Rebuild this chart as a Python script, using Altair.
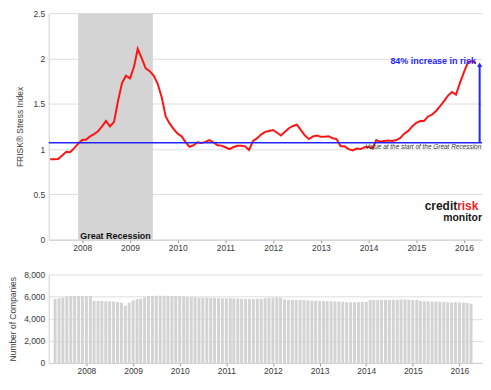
import altair as alt
import pandas as pd

# ---------------- data ----------------
months = pd.date_range("2007-05-01", "2016-04-01", freq="MS").strftime("%Y-%m-%d").tolist()

stress = [
    0.887, 0.887, 0.89, 0.93, 0.97, 0.965, 1.01, 1.06,
    1.10, 1.106, 1.14, 1.165, 1.196, 1.25, 1.31, 1.25, 1.30, 1.53,
    1.73, 1.81, 1.78, 1.91, 2.106, 2.00, 1.89, 1.86, 1.81, 1.72,
    1.57, 1.36, 1.28, 1.22, 1.17, 1.14, 1.08, 1.025, 1.04, 1.075,
    1.066, 1.08, 1.10, 1.075, 1.043, 1.038, 1.02, 1.0, 1.02, 1.036,
    1.036, 1.03, 0.99, 1.09, 1.12, 1.16, 1.19, 1.20, 1.21, 1.18,
    1.15, 1.19, 1.23, 1.255, 1.27, 1.21, 1.15, 1.11, 1.14, 1.15,
    1.135, 1.135, 1.142, 1.12, 1.11, 1.03, 1.03, 1.0, 0.985, 1.005,
    1.0, 1.02, 1.025, 1.007, 1.10, 1.08, 1.09, 1.095, 1.09, 1.10,
    1.124, 1.17, 1.20, 1.25, 1.29, 1.31, 1.31, 1.36, 1.38, 1.42,
    1.47, 1.53, 1.59, 1.63, 1.60, 1.73, 1.85, 1.96, 1.97, 1.95,
]

companies = [
    5800, 5850, 5900, 6000, 6050, 6050, 6050, 6050,
    6050, 6050, 5620, 5600, 5600, 5580, 5570, 5550, 5500, 5450, 5180, 5450,
    5650, 5780, 5800, 5950, 6050, 6050, 6080, 6080, 6080, 6050, 6050, 6050, 6050, 6000, 5980,
    5950, 5950, 5900, 5900, 5900, 5880, 5880, 5850, 5850, 5850, 5850, 5830, 5830, 5800, 5800, 5780, 5780,
    5800, 5800, 5850, 5900,
    5900, 5920, 5900,
    5750, 5720, 5700, 5700, 5680, 5680,
    5650, 5620, 5620, 5600, 5600, 5580, 5580, 5550, 5550, 5530, 5500,
    5480, 5480, 5500, 5520, 5530,
    5700, 5680, 5680, 5700, 5700, 5700, 5720, 5720,
    5750, 5750, 5720, 5700, 5680,
    5600, 5580, 5560, 5550, 5550, 5530, 5530,
    5480, 5470, 5500, 5470, 5450, 5420, 5350,
]

years = [2008, 2009, 2010, 2011, 2012, 2013, 2014, 2015, 2016]
stress_ticks = [0, 0.5, 1, 1.5, 2, 2.5]
company_ticks = [0, 2000, 4000, 6000, 8000]

recession_start = "2007-12-01"
recession_end = "2009-06-25"
recession_mid = "2008-09-12"
start_value = 1.07
latest_value = 1.93

df = pd.DataFrame({"date": months, "stress": stress, "companies": companies})

# ---------------- styling ----------------
FONT = "Liberation Sans, Arial, sans-serif"
BLUE = "#2424ff"
GRID = "#dedede"
DOMAIN = "#cfcfcf"
LABEL = "#3a3a3a"

xscale = alt.Scale(
    type="utc",
    domain=[
        alt.DateTime(year=2007, month=4, date=20, utc=True),
        alt.DateTime(year=2016, month=5, date=18, utc=True),
    ],
)
xaxis = alt.Axis(
    values=[alt.DateTime(year=y, month=1, date=1, utc=True) for y in years],
    format="%Y",
    grid=False,
    domainColor=DOMAIN,
    tickColor="#999999",
    tickSize=3,
    labelPadding=1,
    labelFont=FONT,
    labelFontSize=8.5,
    labelColor=LABEL,
    title=None,
)


def X(field):
    return alt.X(field, type="temporal", scale=xscale, axis=xaxis, title=None)


yscale_top = alt.Scale(domain=[0, 2.5], nice=False, zero=True)
yaxis_top = alt.Axis(
    values=stress_ticks,
    format="~g",
    grid=True,
    gridColor=GRID,
    domainColor=DOMAIN,
    ticks=False,
    labelPadding=4,
    labelFont=FONT,
    labelFontSize=8.5,
    labelColor=LABEL,
    title="FRISK\u00ae Stress Index",
    titleFont=FONT,
    titleFontSize=8.5,
    titleFontWeight="normal",
    titleColor=LABEL,
    titlePadding=9,
)


def YT(field):
    return alt.Y(field, type="quantitative", scale=yscale_top, axis=yaxis_top, title="FRISK\u00ae Stress Index")


band_df = pd.DataFrame({
    "start": [recession_start], "end": [recession_end], "mid": [recession_mid],
    "lo": [0.0], "hi": [2.5], "lab_y": [0.045], "label": ["Great Recession"],
})

band = alt.Chart(band_df).mark_rect(color="#d4d4d4").encode(
    x=X("start"), x2="end", y=YT("lo"), y2="hi"
)
band_text = alt.Chart(band_df).mark_text(
    font=FONT, fontSize=9, fontWeight="bold", color="#111111", align="center", baseline="middle"
).encode(x=X("mid"), y=YT("lab_y"), text="label")

line = alt.Chart(df).mark_line(color="#ff1414", strokeWidth=2).encode(
    x=X("date"), y=YT("stress")
)

hrule = alt.Chart(pd.DataFrame({"v": [start_value]})).mark_rule(
    color=BLUE, strokeWidth=1.5
).encode(y=YT("v"))

arrow_df = pd.DataFrame({"date": ["2016-04-30"], "y0": [start_value], "y1": [latest_value]})
vrule = alt.Chart(arrow_df).mark_rule(color=BLUE, strokeWidth=2).encode(
    x=X("date"), y=YT("y0"), y2="y1"
)
head = alt.Chart(arrow_df).mark_point(
    shape="triangle-up", filled=True, size=28, color=BLUE, opacity=1
).encode(x=X("date"), y=YT("y1"))

inc_df = pd.DataFrame({"date": ["2016-04-01"], "y": [1.975], "t": ["84% increase in risk"]})
inc_text = alt.Chart(inc_df).mark_text(
    font=FONT, fontSize=9, fontWeight="bold", color=BLUE, align="right", baseline="middle"
).encode(x=X("date"), y=YT("y"), text="t")

val_df = pd.DataFrame({"date": ["2016-05-12"], "y": [1.025], "t": ["Value at the start of the Great Recession"]})
val_text = alt.Chart(val_df).mark_text(
    font=FONT, fontSize=6.5, fontStyle="italic", color="#333333", align="right", baseline="middle"
).encode(x=X("date"), y=YT("y"), text="t")

logo_df = pd.DataFrame({
    "date": ["2015-11-10", "2015-11-10", "2016-05-18"],
    "y": [0.33, 0.33, 0.21],
    "t": ["credit", "risk", "monitor"],
    "c": ["#1a1a1a", "#e41e26", "#1a1a1a"],
    "a": ["right", "left", "right"],
    "s": [12, 12, 10.5],
})
logo_parts = []
for i in range(3):
    row = logo_df.iloc[[i]]
    logo_parts.append(
        alt.Chart(row).mark_text(
            font=FONT, fontSize=float(row["s"].iloc[0]), fontWeight="bold", color=row["c"].iloc[0],
            align=row["a"].iloc[0], baseline="alphabetic"
        ).encode(x=X("date"), y=YT("y"), text="t")
    )

top = alt.layer(
    band, line, hrule, vrule, head, band_text, inc_text, val_text, *logo_parts
).properties(width=436, height=228)

# ---------------- bottom ----------------
yaxis_bot = alt.Axis(
    values=company_ticks,
    format=",d",
    grid=True,
    gridColor=GRID,
    domainColor=DOMAIN,
    ticks=False,
    labelPadding=4,
    labelFont=FONT,
    labelFontSize=8.5,
    labelColor=LABEL,
    title="Number of Companies",
    titleFont=FONT,
    titleFontSize=8.5,
    titleFontWeight="normal",
    titleColor=LABEL,
    titlePadding=6,
)

bottom = alt.Chart(df).mark_bar(color="#d3d3d3", size=3).encode(
    x=X("date"),
    y=alt.Y("companies:Q", scale=alt.Scale(domain=[0, 8000], nice=False), axis=yaxis_bot,
            title="Number of Companies"),
).properties(width=436, height=89)

chart = alt.vconcat(top, bottom, spacing=18).properties(
    padding={"left": 0, "top": 0, "right": 0, "bottom": 0},
    background="white",
).configure_view(strokeWidth=0)

chart.save("out.html", embed_options={"renderer": "svg", "actions": False})
